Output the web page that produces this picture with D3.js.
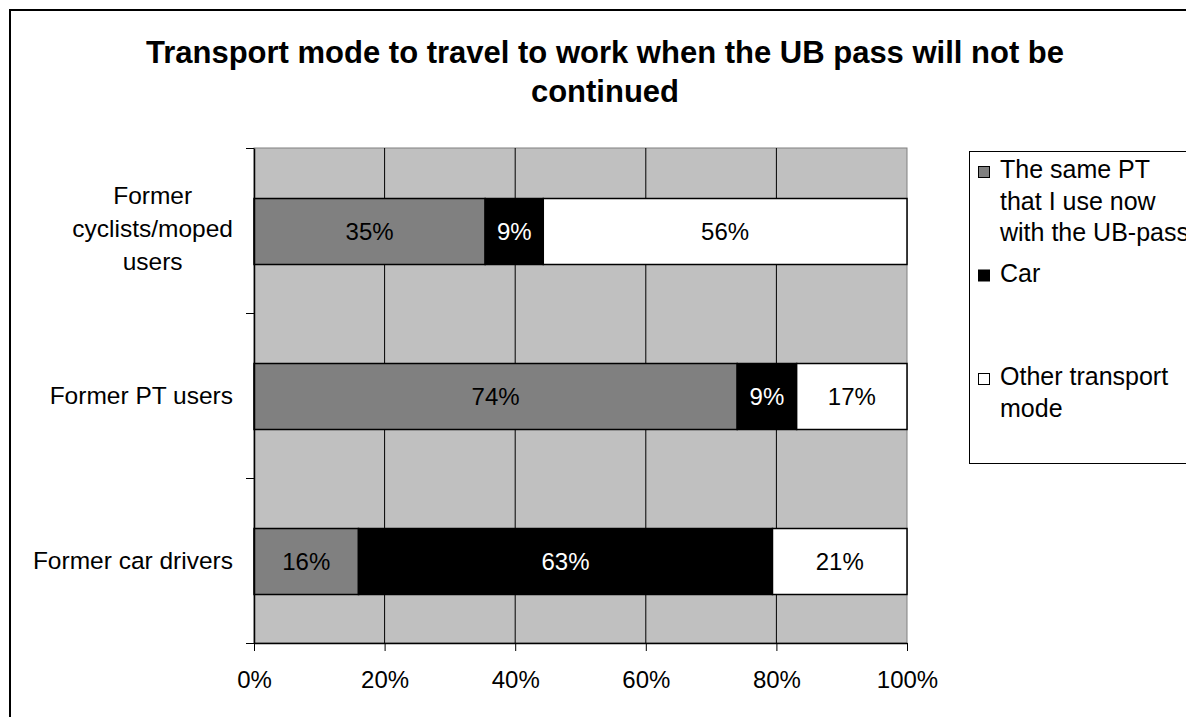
<!DOCTYPE html>
<html>
<head>
<meta charset="utf-8">
<script src="https://cdn.jsdelivr.net/npm/d3@7"></script>
<style>
  body { margin: 0; background: #fff; }
  text { font-family: "Liberation Sans", Arial, sans-serif; }
</style>
</head>
<body>
<div id="chart"></div>
<script>
// data (percent of each group)
const categories = ["Former cyclists/moped users", "Former PT users", "Former car drivers"];
const categoryLines = [["Former", "cyclists/moped", "users"], ["Former PT users"], ["Former car drivers"]];
const seriesNames = ["The same PT that I use now with the UB-pass", "Car", "Other transport mode"];
const legendLines = [["The same PT", "that I use now", "with the UB-pass"], ["Car"], ["Other transport", "mode"]];
const samePT = [35.4, 74.0, 16.0];
const car = [8.9, 9.1, 63.4];
const other = [55.7, 16.9, 20.6];
const xTicks = [0, 20, 40, 60, 80, 100];

const fills = ["#808080", "#000000", "#ffffff"];
const labelFills = ["#000000", "#ffffff", "#000000"];

const W = 1186, H = 717;
const plot = {left: 254, right: 907, top: 148, bottom: 643};

const svg = d3.select("#chart").append("svg")
    .attr("width", W)
    .attr("height", H);

// outer chart frame (runs off the right and bottom)
svg.append("rect")
    .attr("x", 10).attr("y", 10)
    .attr("width", W + 20).attr("height", H + 20)
    .attr("fill", "none")
    .attr("stroke", "#000")
    .attr("stroke-width", 2);

// title
const title = svg.append("text")
    .attr("text-anchor", "middle")
    .style("font-size", "31px")
    .style("font-weight", "bold");
title.append("tspan").attr("x", 605).attr("y", 63)
    .text("Transport mode to travel to work when the UB pass will not be");
title.append("tspan").attr("x", 605).attr("y", 102)
    .text("continued");

// scales
const x = d3.scaleLinear()
    .domain([0, 100])
    .range([plot.left, plot.right]);

const y = d3.scaleBand()
    .domain(categories)
    .range([plot.top, plot.bottom])
    .paddingInner(0.6)
    .paddingOuter(0.3);

const yEdge = d3.scaleLinear()
    .domain([0, categories.length])
    .range([plot.top, plot.bottom]);

// plot background
svg.append("rect")
    .attr("x", plot.left).attr("y", plot.top)
    .attr("width", plot.right - plot.left)
    .attr("height", plot.bottom - plot.top)
    .attr("fill", "#c0c0c0")
    .attr("stroke", "#808080")
    .attr("stroke-width", 1);

// vertical grid lines
svg.append("g")
    .selectAll("line")
    .data(xTicks.filter(d => d > 0 && d < 100))
    .enter().append("line")
    .attr("x1", d => x(d)).attr("x2", d => x(d))
    .attr("y1", plot.top).attr("y2", plot.bottom)
    .attr("stroke", "#000")
    .attr("stroke-width", 1);

// stacked bars
const rows = categories.map((c, i) => ({cat: c, s0: samePT[i], s1: car[i], s2: other[i]}));
const stack = d3.stack().keys(["s0", "s1", "s2"]);
const layers = stack(rows);

const layerG = svg.append("g")
    .selectAll("g")
    .data(layers)
    .enter().append("g");

layerG.selectAll("rect")
    .data((d, i) => d.map(p => ({p: p, k: i})))
    .enter().append("rect")
    .attr("x", d => x(d.p[0]))
    .attr("y", d => y(d.p.data.cat) + 1)
    .attr("width", d => x(d.p[1]) - x(d.p[0]))
    .attr("height", y.bandwidth())
    .attr("fill", d => fills[d.k])
    .attr("stroke", "#000")
    .attr("stroke-width", 1.5);

layerG.selectAll("text")
    .data((d, i) => d.map(p => ({p: p, k: i})))
    .enter().append("text")
    .attr("x", d => (x(d.p[0]) + x(d.p[1])) / 2)
    .attr("y", d => y(d.p.data.cat) + y.bandwidth() / 2 + 9)
    .attr("text-anchor", "middle")
    .style("font-size", "24px")
    .attr("fill", d => labelFills[d.k])
    .text(d => Math.round(d.p[1] - d.p[0]) + "%");

// x axis
const xAxis = svg.append("g")
    .attr("transform", "translate(0," + plot.bottom + ")")
    .call(d3.axisBottom(x).tickValues(xTicks).tickFormat(d => d + "%").tickSizeInner(8).tickSizeOuter(0));
xAxis.select(".domain").attr("stroke", "#000").attr("stroke-width", 1.5);
xAxis.selectAll(".tick line").attr("stroke", "#000");
xAxis.selectAll(".tick text")
    .attr("y", 45)
    .attr("dy", 0)
    .attr("fill", "#000")
    .style("font-size", "24px")
    .style("font-family", "'Liberation Sans', Arial, sans-serif");

// y axis: ticks on the category boundaries
const yAxis = svg.append("g")
    .attr("transform", "translate(" + plot.left + ",0)")
    .call(d3.axisLeft(yEdge).tickValues(d3.range(categories.length + 1)).tickFormat("").tickSizeInner(8).tickSizeOuter(0));
yAxis.select(".domain").attr("stroke", "#000").attr("stroke-width", 1.5);
yAxis.selectAll(".tick line").attr("stroke", "#000");

// category labels
const catG = svg.append("g");
categories.forEach(function(c, i) {
    const lines = categoryLines[i];
    const cy = y(c) + y.bandwidth() / 2;
    const t = catG.append("text")
        .style("font-size", "24.5px")
        .attr("fill", "#000");
    if (lines.length === 1) {
        t.attr("text-anchor", "end")
            .attr("x", 233)
            .attr("y", cy + 8)
            .text(lines[0]);
    } else {
        t.attr("text-anchor", "middle");
        const spans = t.selectAll("tspan")
            .data(lines)
            .enter().append("tspan")
            .attr("y", (d, j) => cy + 6 + (j - (lines.length - 1) / 2) * 33)
            .text(d => d);
        let maxW = 0;
        spans.each(function() { maxW = Math.max(maxW, this.getComputedTextLength()); });
        spans.attr("x", 233 - maxW / 2);
    }
});

// legend
const legend = svg.append("g");
legend.append("rect")
    .attr("x", 969.5).attr("y", 151.5)
    .attr("width", 300).attr("height", 312)
    .attr("fill", "#fff")
    .attr("stroke", "#000")
    .attr("stroke-width", 1);

seriesNames.forEach(function(s, i) {
    const base = 178 + i * 103.5;
    legend.append("rect")
        .attr("x", 978.5).attr("y", base - 11.5)
        .attr("width", 11).attr("height", 11)
        .attr("fill", fills[i])
        .attr("stroke", "#000")
        .attr("stroke-width", 1);
    const t = legend.append("text")
        .style("font-size", "25px")
        .attr("fill", "#000");
    t.selectAll("tspan")
        .data(legendLines[i])
        .enter().append("tspan")
        .attr("x", 1000)
        .attr("y", (d, j) => base + j * 31.5)
        .text(d => d);
});
</script>
</body>
</html>
